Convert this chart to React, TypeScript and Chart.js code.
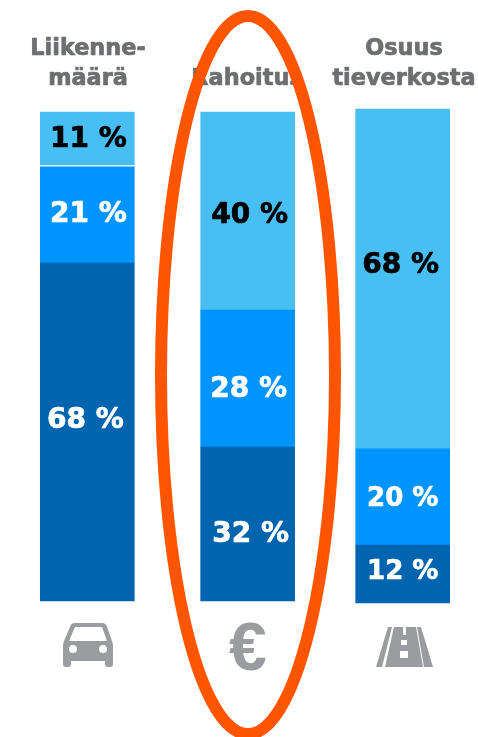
import React, { useEffect, useRef } from "react";
import { Chart, registerables } from "chart.js";

Chart.register(...registerables);

// Columns
const categories = ["Liikennemäärä", "Rahoitus", "Osuus tieverkosta"];
const headerLines = [["Liikenne-", "määrä"], ["Rahoitus"], ["Osuus", "tieverkosta"]];

// Percentages printed on the segments (bottom, middle, top)
const shownBottom = [68, 32, 12];
const shownMiddle = [21, 28, 20];
const shownTop = [11, 40, 68];

// Segment extents, in percent of the bar height
const bottomRanges: [number, number][] = [[0, 69.1], [0, 31.5], [-0.4, 11.45]];
const middleRanges: [number, number][] = [[69.1, 88.8], [31.5, 59.5], [11.45, 31.1]];
const topRanges: [number, number][] = [[89.2, 100], [59.5, 100], [31.1, 100.6]];

const LIGHT = "#48BFF3";
const MID = "#0094FF";
const DARK = "#0064AE";
const HEADER = "#6D6E71";
const ICON = "#9A9CA0";
const ORANGE = "#FF5500";

const columnX = [0, 1.017, 2];
// [dx, dy] nudges of each printed label from the centre of its segment
const bottomNudge = [[-2, -11], [3, 11], [0, -2]];
const middleNudge = [[1, 0], [1, 11], [0, 2]];
const topNudge = [[1, 1], [2, 5], [-2, -13]];

const font = (size: number) => `bold ${size}px "DejaVu Sans"`;

function heavyText(c: CanvasRenderingContext2D, t: string, x: number, y: number, color: string, weight: number) {
  c.fillStyle = color;
  c.strokeStyle = color;
  c.lineWidth = weight;
  c.lineJoin = "round";
  c.strokeText(t, x, y);
  c.fillText(t, x, y);
}

function drawCar(c: CanvasRenderingContext2D) {
  c.fillStyle = ICON;
  c.beginPath();
  c.moveTo(70, 627);
  c.quadraticCurveTo(71, 623, 75, 623);
  c.lineTo(102, 623);
  c.quadraticCurveTo(106, 623, 107, 627);
  c.lineTo(112, 641);
  c.quadraticCurveTo(113, 643, 113, 646);
  c.lineTo(113, 664);
  c.quadraticCurveTo(113, 667, 110, 667);
  c.lineTo(108, 667);
  c.quadraticCurveTo(105, 667, 105, 664);
  c.lineTo(105, 661);
  c.lineTo(71, 661);
  c.lineTo(71, 664);
  c.quadraticCurveTo(71, 667, 68, 667);
  c.lineTo(66, 667);
  c.quadraticCurveTo(63, 667, 63, 664);
  c.lineTo(63, 646);
  c.quadraticCurveTo(63, 643, 64, 641);
  c.closePath();
  c.fill();
  c.fillStyle = "#fff";
  c.beginPath();
  c.moveTo(75, 627);
  c.lineTo(102, 627);
  c.lineTo(107, 641);
  c.lineTo(69, 641);
  c.closePath();
  c.fill();
  c.beginPath();
  c.arc(73, 649, 4, 0, Math.PI * 2);
  c.arc(103, 649, 4, 0, Math.PI * 2);
  c.fill();
}

function drawRoad(c: CanvasRenderingContext2D) {
  c.fillStyle = ICON;
  const poly = (pts: number[][]) => {
    c.beginPath();
    pts.forEach(([x, y], i) => (i ? c.lineTo(x, y) : c.moveTo(x, y)));
    c.closePath();
    c.fill();
  };
  poly([[388, 627], [392, 627], [382, 667], [376, 667]]);
  poly([[394, 627], [416, 627], [423, 667], [385, 667]]);
  poly([[417, 627], [421, 627], [433, 667], [424, 667]]);
  c.fillStyle = "#fff";
  c.fillRect(403, 627, 3, 8);
  c.fillRect(401, 640, 6, 5);
  c.fillRect(400, 651, 8, 7);
}

const overlay = {
  id: "overlay",
  afterDraw(chart: any) {
    const c: CanvasRenderingContext2D = chart.ctx;
    c.save();
    c.textAlign = "center";
    c.textBaseline = "middle";

    // Column headers
    c.font = font(22.4);
    const headerX = [88, 247, 404];
    headerLines.forEach((lines, i) => {
      lines.forEach((t, j) => heavyText(c, t, headerX[i], 79 - (lines.length - 1 - j) * 30, HEADER, 0.7));
    });

    // Segment labels
    const groups = [
      { shown: shownBottom, nudge: bottomNudge, color: "#fff" },
      { shown: shownMiddle, nudge: middleNudge, color: "#fff" },
      { shown: shownTop, nudge: topNudge, color: "#000" },
    ];
    groups.forEach((g, d) => {
      chart.getDatasetMeta(d).data.forEach((bar: any, i: number) => {
        const cy = (bar.y + bar.base) / 2;
        c.font = font(i === 2 && d !== 2 ? 26 : 28);
        heavyText(c, `${g.shown[i]} %`, bar.x + g.nudge[i][0], cy + g.nudge[i][1], g.color, 0.7);
      });
    });

    // Icons
    drawCar(c);
    c.fillStyle = ICON;
    c.font = 'bold 68px "Liberation Sans"';
    c.fillText("€", 248, 651);
    drawRoad(c);

    // Highlight ellipse
    c.strokeStyle = ORANGE;
    c.lineWidth = 12;
    c.beginPath();
    c.ellipse(248, 375, 87, 359, 0, 0, Math.PI * 2);
    c.stroke();
    c.restore();
  },
};

export default function App() {
  const ref = useRef<HTMLCanvasElement>(null);
  useEffect(() => {
    const toPoints = (ranges: [number, number][]) =>
      ranges.map((r, i) => ({ x: columnX[i], y: r }));
    const chart = new Chart(ref.current!, {
      type: "bar",
      data: {
        labels: categories,
        datasets: [
          { label: "Alin", data: toPoints(bottomRanges) as any, backgroundColor: DARK },
          { label: "Keski", data: toPoints(middleRanges) as any, backgroundColor: MID },
          { label: "Ylin", data: toPoints(topRanges) as any, backgroundColor: LIGHT },
        ],
      },
      options: {
        animation: false,
        responsive: false,
        devicePixelRatio: 1,
        layout: { padding: { left: 40, right: 28, top: 112, bottom: 136 } },
        datasets: { bar: { grouped: false, barThickness: 94, clip: false as any } },
        scales: {
          x: { type: "linear", min: -0.3, max: 2.3, offset: false, display: false },
          y: { min: 0, max: 100, display: false },
        },
        plugins: { legend: { display: false }, tooltip: { enabled: false } },
      },
      plugins: [overlay],
    });
    return () => chart.destroy();
  }, []);
  return (
    <div style={{ position: "fixed", left: 0, top: 0, width: 478, height: 737, background: "#fff" }}>
      <canvas ref={ref} width={478} height={737} style={{ display: "block" }} />
    </div>
  );
}
